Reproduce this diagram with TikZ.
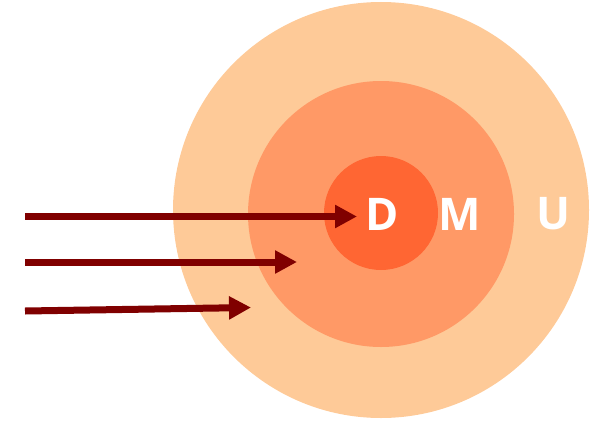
\documentclass[tikz,border=0pt]{standalone}
\usepackage{fontspec}
\setmainfont{Open Sans}
\usetikzlibrary{arrows.meta}
\definecolor{cOuter}{HTML}{FECA98}
\definecolor{cMid}{HTML}{FF9966}
\definecolor{cIn}{HTML}{FF6633}
\definecolor{cArr}{HTML}{800000}
\begin{document}
\begin{tikzpicture}[x=1pt,y=-1pt,
  ring/.style={circle,inner sep=0pt,draw=none},
  lbl/.style={text=white,font=\fontsize{45}{45}\selectfont\bfseries,inner sep=0pt,anchor=center},
  arr/.style={draw=cArr,line width=7pt,-{Triangle[length=22pt,width=22pt]}}]
\useasboundingbox (0,0) rectangle (593,420);
\node[ring,fill=cOuter,minimum size=416pt] (U) at (381,210) {};
\node[ring,fill=cMid,minimum size=266pt] (M) at (381,214) {};
\node[ring,fill=cIn,minimum size=114pt] (D) at (381,213) {};
\node[lbl] (dl) at (382,214) {D};
\node[lbl] (ml) at (460,214) {M};
\node[lbl] (ul) at (553,214) {U};
\coordinate (s1) at (25,216.5);
\coordinate (e1) at (357,216.5);
\coordinate (s2) at (25,262);
\coordinate (e2) at (297,262);
\coordinate (s3) at (25,311);
\coordinate (e3) at (251,307.5);
\draw[arr] (s1) -- (e1);
\draw[arr] (s2) -- (e2);
\draw[arr] (s3) -- (e3);
\end{tikzpicture}
\end{document}
